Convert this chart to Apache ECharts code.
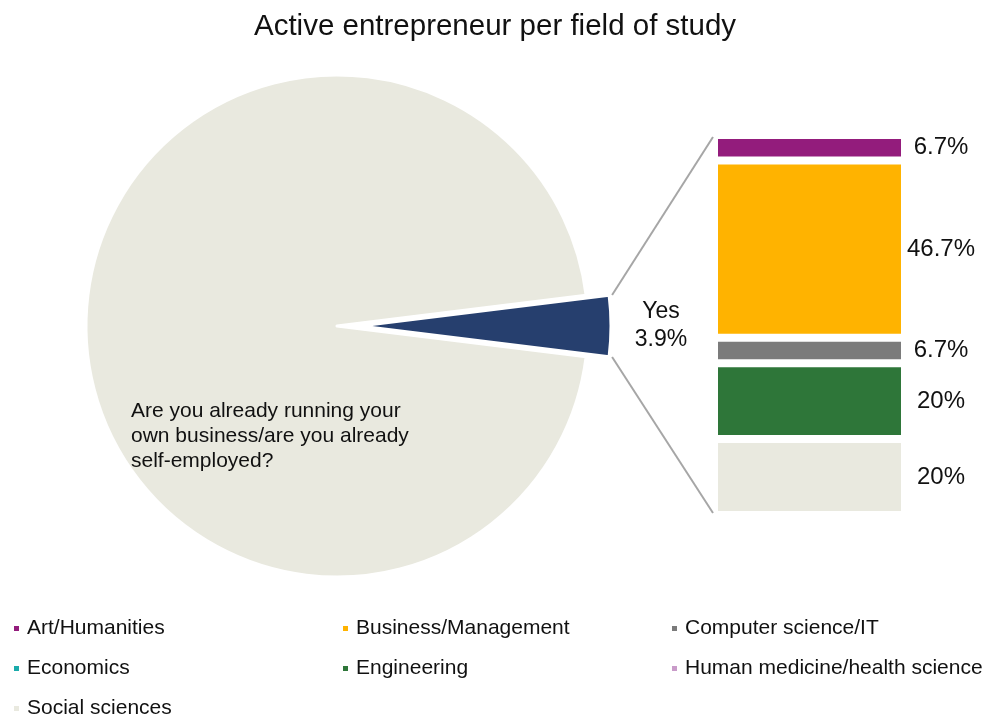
<!DOCTYPE html>
<html>
<head>
<meta charset="utf-8">
<title>Active entrepreneur per field of study</title>
<script src="https://cdn.jsdelivr.net/npm/echarts@6/dist/echarts.min.js"></script>
<style>
  html, body { margin: 0; padding: 0; background: #fff; }
  #main { width: 990px; height: 720px; }
</style>
</head>
<body>
<div id="main"></div>
<script>
// data
const answers = ['Yes', 'No']
const answerShares = [3.9, 96.1]
const answerColors = ['#263f6e', '#e9e9df']
const question = 'Are you already running your\nown business/are you already\nself-employed?'

const fields = ['Art/Humanities', 'Business/Management', 'Computer science/IT',
  'Economics', 'Engineering', 'Human medicine/health science', 'Social sciences']
const fieldShares = [6.7, 46.7, 6.7, 0, 20, 0, 20]
const fieldColors = ['#931c7c', '#ffb300', '#7b7b7b', '#1aabab', '#2e7639', '#c99bc9', '#e9e9df']

// legend columns (indexes into fields)
const legendCols = [[0, 3, 6], [1, 4], [2, 5]]

const FONT = '"Liberation Sans", Arial, Helvetica, sans-serif'
const pieCenter = [337, 326]
const pieRadius = 251
const explode = 23
const grid = { left: 714, top: 135, width: 191, height: 380 }

const total = fieldShares.reduce((a, b) => a + b, 0)
const halfAngle = answerShares[0] / 100 * 180

// stacked bar: first series sits at the bottom, so go in reverse
const barSeries = fields.map((name, i) => ({
  name,
  type: 'bar',
  stack: 'fields',
  barWidth: '100%',
  silent: true,
  itemStyle: { color: fieldColors[i], borderColor: '#fff', borderWidth: 4 },
  label: {
    show: fieldShares[i] > 0,
    position: [227, '50%'],
    align: 'center',
    verticalAlign: 'middle',
    fontFamily: FONT,
    fontSize: 24,
    color: '#111',
    formatter: p => p.value + '%'
  },
  data: [fieldShares[i]]
})).reverse()

const legendBase = {
  orient: 'vertical',
  top: 618,
  padding: 0,
  icon: 'rect',
  itemWidth: 7,
  itemHeight: 7,
  itemGap: 19,
  selectedMode: false,
  textStyle: { fontFamily: FONT, fontSize: 21, color: '#111', padding: [0, 0, 0, 2] }
}

const chart = echarts.init(document.getElementById('main'))

chart.setOption({
  animation: false,
  title: [
    {
      text: 'Active entrepreneur per field of study',
      left: 'center',
      top: 7,
      textStyle: { fontFamily: FONT, fontSize: 29.5, fontWeight: 'normal', color: '#111' }
    },
    {
      text: question,
      left: 131,
      top: 399,
      padding: 0,
      textStyle: { fontFamily: FONT, fontSize: 21, fontWeight: 'normal', color: '#111', lineHeight: 25 }
    }
  ],
  legend: legendCols.map((col, k) => Object.assign({}, legendBase, {
    left: [12, 341, 670][k],
    data: col.map(i => fields[i])
  })),
  grid: Object.assign({}, grid, { containLabel: false }),
  xAxis: { type: 'category', data: ['fields'], show: false },
  yAxis: { type: 'value', min: 0, max: total, show: false },
  series: [
    {
      type: 'pie',
      name: 'answer',
      center: pieCenter,
      radius: pieRadius,
      startAngle: halfAngle,
      clockwise: true,
      selectedMode: 'single',
      selectedOffset: explode,
      silent: true,
      avoidLabelOverlap: false,
      itemStyle: { borderColor: '#fff', borderWidth: 3 },
      labelLine: { show: false },
      label: {
        show: true,
        position: 'outside',
        fontFamily: FONT,
        fontSize: 23,
        lineHeight: 28,
        color: '#111',
        formatter: p => p.name + '\n' + p.value + '%'
      },
      labelLayout: p => p.dataIndex === 0
        ? { x: p.rect.x + p.rect.width + 46, y: p.rect.y + p.rect.height / 2, align: 'center', verticalAlign: 'middle' }
        : {},
      data: answers.map((name, i) => ({
        name,
        value: answerShares[i],
        selected: i === 0,
        itemStyle: { color: answerColors[i] },
        label: { show: i === 0 }
      }))
    }
  ].concat(barSeries)
})

// connector lines from the exploded slice to the ends of the bar
const rad = halfAngle * Math.PI / 180
const tip = [pieCenter[0] + explode, pieCenter[1]]
const reach = pieRadius + 3
const yTop = chart.convertToPixel({ yAxisIndex: 0 }, total)
const yBottom = chart.convertToPixel({ yAxisIndex: 0 }, 0)
const lineStyle = { stroke: '#a6a6a6', lineWidth: 2 }

chart.setOption({
  graphic: [
    {
      type: 'line',
      silent: true,
      shape: { x1: tip[0] + reach * Math.cos(rad), y1: tip[1] - reach * Math.sin(rad), x2: grid.left - 1, y2: yTop + 2 },
      style: lineStyle
    },
    {
      type: 'line',
      silent: true,
      shape: { x1: tip[0] + reach * Math.cos(rad), y1: tip[1] + reach * Math.sin(rad), x2: grid.left - 1, y2: yBottom - 2 },
      style: lineStyle
    }
  ]
})
</script>
</body>
</html>
